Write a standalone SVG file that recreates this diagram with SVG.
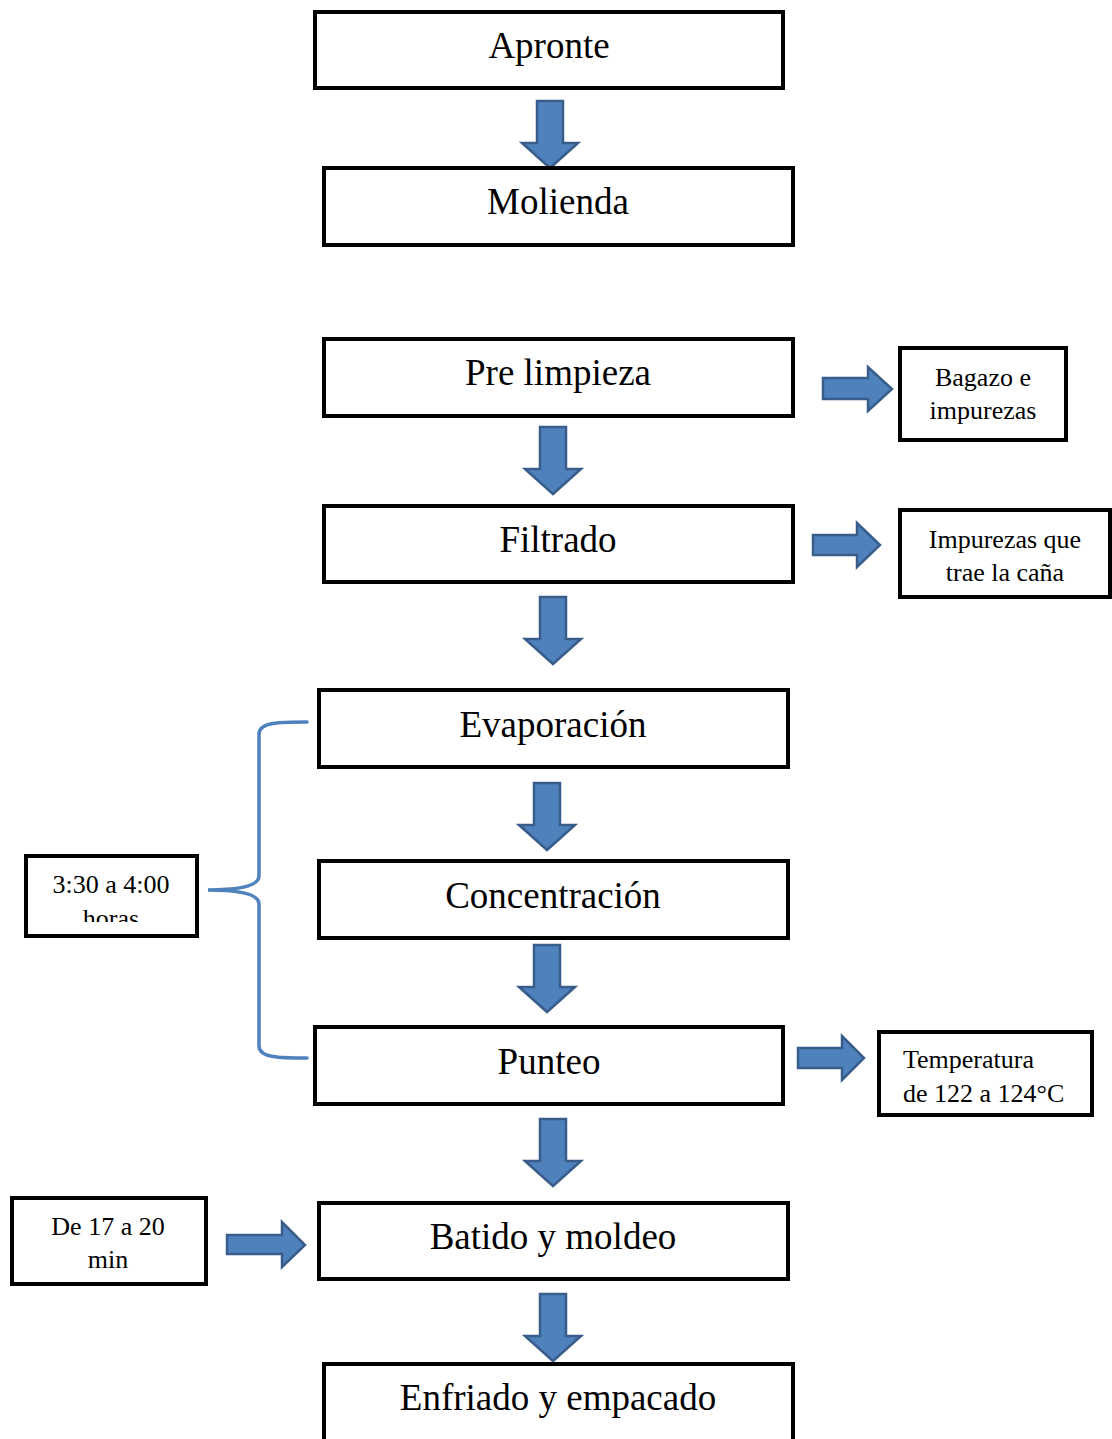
<svg xmlns="http://www.w3.org/2000/svg" width="1112" height="1439" viewBox="0 0 1112 1439">
<style>
.box{fill:#fff;stroke:#000;stroke-width:4}
.main{font-family:"Liberation Serif","Times New Roman",serif;font-size:37px;fill:#000;text-anchor:middle}
.side{font-family:"Liberation Serif","Times New Roman",serif;font-size:26px;fill:#000;text-anchor:middle}
.arr{fill:#4F81BD;stroke:#385D8A;stroke-width:2.5;stroke-linejoin:miter}
.brace{fill:none;stroke:#4F81BD;stroke-width:3.5;stroke-linecap:round}
</style>
<defs>
<path id="down" d="M -13 0 H 13 V 42 H 28 L 0 67 L -28 42 H -13 Z"/>
<clipPath id="clipHoras"><rect x="28" y="858" width="167" height="64"/></clipPath>
</defs>
<rect width="1112" height="1439" fill="#fff"/>
<g id="connectors">
<use href="#down" class="arr" x="550" y="101"/>
<use href="#down" class="arr" x="553" y="427"/>
<use href="#down" class="arr" x="553" y="597"/>
<use href="#down" class="arr" x="547" y="783"/>
<use href="#down" class="arr" x="547" y="945"/>
<use href="#down" class="arr" x="553" y="1119"/>
<use href="#down" class="arr" x="553" y="1294"/>
<path class="arr" d="M 823 378 H 868 V 367 L 892 389 L 868 411 V 399 H 823 Z"/>
<path class="arr" d="M 813 535 H 857 V 523 L 880 545 L 857 567 V 555 H 813 Z"/>
<path class="arr" d="M 798 1048 H 842 V 1036 L 864 1058 L 842 1080 V 1068 H 798 Z"/>
<path class="arr" d="M 227 1235 H 282 V 1222 L 305 1245 L 282 1267 V 1254 H 227 Z"/>
<path class="brace" d="M 307 722 C 280 722 259 722 259 734 V 876 C 259 886 240 890 208 890 C 240 890 259 894 259 904 V 1046 C 259 1058 280 1058 307 1058"/>
</g>
<g id="apronte"><rect class="box" x="315" y="12" width="468" height="76"/><text class="main" x="549" y="58">Apronte</text></g>
<g id="molienda"><rect class="box" x="324" y="168" width="469" height="77"/><text class="main" x="558" y="214">Molienda</text></g>
<g id="prelimpieza"><rect class="box" x="324" y="339" width="469" height="77"/><text class="main" x="558" y="385">Pre limpieza</text></g>
<g id="filtrado"><rect class="box" x="324" y="506" width="469" height="76"/><text class="main" x="558" y="552">Filtrado</text></g>
<g id="evaporacion"><rect class="box" x="319" y="690" width="469" height="77"/><text class="main" x="553" y="737">Evaporación</text></g>
<g id="concentracion"><rect class="box" x="319" y="861" width="469" height="77"/><text class="main" x="553" y="908">Concentración</text></g>
<g id="punteo"><rect class="box" x="315" y="1027" width="468" height="77"/><text class="main" x="549" y="1074">Punteo</text></g>
<g id="batido"><rect class="box" x="319" y="1203" width="469" height="76"/><text class="main" x="553" y="1249">Batido y moldeo</text></g>
<g id="enfriado"><rect class="box" x="324" y="1364" width="469" height="80"/><text class="main" x="558" y="1410">Enfriado y empacado</text></g>
<g id="bagazo"><rect class="box" x="900" y="348" width="166" height="92"/><text class="side" x="983" y="386">Bagazo e</text><text class="side" x="983" y="419">impurezas</text></g>
<g id="impurezas"><rect class="box" x="900" y="510" width="210" height="87"/><text class="side" x="1005" y="548">Impurezas que</text><text class="side" x="1005" y="581">trae la caña</text></g>
<g id="temperatura"><rect class="box" x="879" y="1032" width="213" height="83"/><text class="side" x="903" y="1068" style="text-anchor:start">Temperatura</text><text class="side" x="903" y="1102" style="text-anchor:start">de 122 a 124°C</text></g>
<g id="horas"><rect class="box" x="26" y="856" width="171" height="80"/><text class="side" x="111" y="893">3:30 a 4:00</text><text class="side" x="111" y="927" clip-path="url(#clipHoras)">horas</text></g>
<g id="min"><rect class="box" x="12" y="1198" width="194" height="86"/><text class="side" x="108" y="1235">De 17 a 20</text><text class="side" x="108" y="1268">min</text></g>
</svg>
